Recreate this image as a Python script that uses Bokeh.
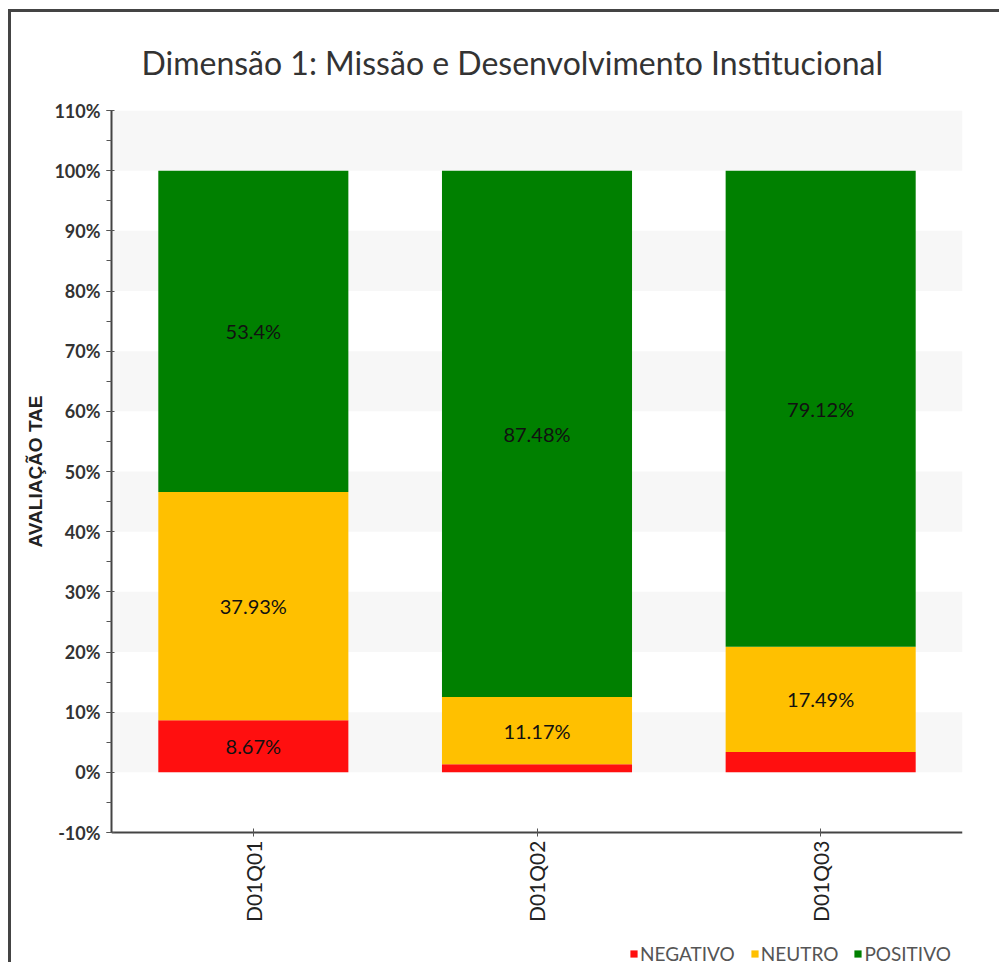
import math
from bokeh.plotting import figure
from bokeh.models import (Range1d, SingleIntervalTicker, PrintfTickFormatter,
                          ColumnDataSource, LabelSet, Legend, Title,
                          BoxAnnotation)
from bokeh.core.properties import value
from bokeh.embed import file_html
from bokeh.resources import INLINE

# Survey results per question (percent of answers)
questions = ["D01Q01", "D01Q02", "D01Q03"]
negativo = [8.67, 1.35, 3.39]
neutro = [37.93, 11.17, 17.49]
positivo = [53.4, 87.48, 79.12]

series = ["negativo", "neutro", "positivo"]
series_labels = ["NEGATIVO", "NEUTRO", "POSITIVO"]
colors = ["#FF0F0F", "#FFC000", "#008000"]

title_text = "Dimensão 1: Missão e Desenvolvimento Institucional"
y_title = "AVALIAÇÃO TAE"

# value axis runs from -10% to 110%; the frame continues below it to hold
# the category labels and the legend
y_lo, y_hi, y_step = -10, 110, 10
y_frame_lo = -32.1

source = ColumnDataSource(dict(questions=questions, negativo=negativo,
                               neutro=neutro, positivo=positivo))

p = figure(x_range=questions, y_range=Range1d(y_frame_lo, y_hi),
           width=991, height=953, output_backend="svg",
           toolbar_location=None, min_border_left=100, min_border_right=40,
           min_border_top=98, min_border_bottom=0,
           title=title_text)
p.margin = (9, 0, 0, 8)
# framed box around the whole chart (only top/left edges fall inside the page)
p.styles = {"border-top": "3px solid #444444", "border-left": "3px solid #444444"}
p.outline_line_color = None
p.background_fill_color = "white"

p.title.align = "left"
p.title.offset = 30
p.title.text_font = "Lato"
p.title.text_font_style = "normal"
p.title.text_font_size = "32px"
p.title.text_color = "#333333"
p.title.standoff = 57

# alternating light bands: 0-10, 20-30, ..., 100-110
for b in range(y_lo + y_step, y_hi, 2 * y_step):
    p.add_layout(BoxAnnotation(bottom=b, top=b + y_step, level="underlay",
                               fill_color="#f7f7f7", fill_alpha=1.0,
                               line_color=None))

renderers = p.vbar_stack(series, x="questions", width=0.67, source=source,
                         color=colors, line_color=None)

p.xgrid.grid_line_color = None
p.ygrid.grid_line_color = None

# y axis
yax = p.yaxis[0]
yax.bounds = (y_lo, y_hi)
yax.ticker = SingleIntervalTicker(interval=y_step, num_minor_ticks=2)
yax.formatter = PrintfTickFormatter(format="%d%%")
yax.major_label_text_font = "Lato"
yax.major_label_text_font_style = "bold"
yax.major_label_text_font_size = "18px"
yax.major_label_text_color = "#333333"
yax.major_label_standoff = 6
yax.major_tick_out = 5
yax.major_tick_in = 3
yax.minor_tick_out = 5
yax.minor_tick_in = 0

# y axis title, centred on the -10%..110% span
p.add_layout(Title(text=y_title, align="left", offset=418,
                   text_font="Liberation Sans", text_font_style="bold",
                   text_font_size="19px", text_color="#222222",
                   standoff=12), "left")

# x axis sits at -10%, labels reading bottom to top
xax = p.xaxis[0]
xax.fixed_location = y_lo
xax.major_label_orientation = math.pi / 2
xax.major_label_text_font = "Lato"
xax.major_label_text_font_size = "21px"
xax.major_label_text_color = "#222222"
xax.major_tick_out = 4
xax.major_tick_in = 4
xax.major_label_standoff = 4

for ax in (xax, yax):
    ax.axis_line_color = "#444444"
    ax.axis_line_width = 2
    ax.major_tick_line_color = "#555555"
    ax.minor_tick_line_color = "#555555"

# value labels centred in each segment (small segments are left unlabelled)
lx, ly, lt = [], [], []
for i, q in enumerate(questions):
    base = 0.0
    for vals in (negativo, neutro, positivo):
        v = vals[i]
        if v >= 5:
            lx.append(q)
            ly.append(base + v / 2)
            lt.append(f"{v:g}%")
        base += v
lab_src = ColumnDataSource(dict(x=lx, y=ly, t=lt))
p.add_layout(LabelSet(x="x", y="y", text="t", source=lab_src,
                      text_align="center", text_baseline="middle",
                      text_font=value("Lato"), text_font_size="20px",
                      text_color="#111111"))

# legend along the bottom edge
legend = Legend(items=[(lbl, [r]) for lbl, r in zip(series_labels, renderers)],
                orientation="horizontal", location=(518, 0),
                label_text_font="Lato", label_text_font_size="19px",
                label_text_color="#555555", glyph_width=9, glyph_height=9,
                label_standoff=2, spacing=15, padding=0, margin=0,
                border_line_color=None, background_fill_alpha=0)
p.add_layout(legend, "center")

open("out.html", "w").write(file_html(p, INLINE))
